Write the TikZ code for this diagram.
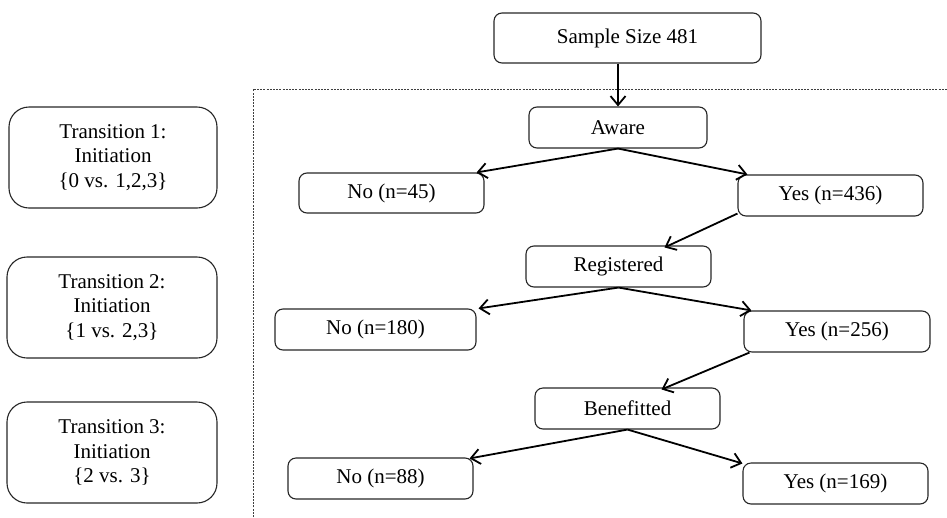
\documentclass[tikz,border=0pt]{standalone}
\usepackage{fontspec}
\setmainfont{Liberation Serif}
\usetikzlibrary{arrows.meta}
\begin{document}
\begin{tikzpicture}[x=1pt,y=-1pt,
  box/.style={draw=black!85, line width=1.1pt, rounded corners=8pt,
    inner sep=0pt, align=center, font=\fontsize{21}{24.5}\selectfont},
  sidebox/.style={box, rounded corners=20pt},
  flow/.style={line width=1.8pt, -{Straight Barb[length=9pt,width=15pt,line width=1.8pt]}},
  frame/.style={line width=0.8pt, black!75, dash pattern=on 2pt off 1.2pt}]
\useasboundingbox (0,0) rectangle (947,517);

% dashed frame around the decision tree
\coordinate (fc) at (253,89);
\coordinate (fr) at (947,89);
\coordinate (fb) at (253,517);
\draw[frame] (fb) -- (fc) -- (fr);

% transition labels
\node[sidebox, minimum width=208pt, minimum height=101pt] (t1) at (113,157.5)
  {Transition 1:\\Initiation\\\{0 vs. 1,2,3\}};
\node[sidebox, minimum width=210pt, minimum height=101pt] (t2) at (112,307.5)
  {Transition 2:\\Initiation\\\{1 vs. 2,3\}};
\node[sidebox, minimum width=210pt, minimum height=101pt] (t3) at (112,452.5)
  {Transition 3:\\Initiation\\\{2 vs. 3\}};

% decision tree
\node[box, minimum width=267pt, minimum height=50pt] (sample) at (627.5,38) {Sample Size 481};
\node[box, minimum width=178pt, minimum height=41pt] (aware) at (618,127.5) {Aware};
\node[box, minimum width=185pt, minimum height=40pt] (no1) at (391.5,193) {No (n=45)};
\node[box, minimum width=185pt, minimum height=41pt] (yes1) at (830.5,195.5) {Yes (n=436)};
\node[box, minimum width=185pt, minimum height=41pt] (reg) at (618.5,266.5) {Registered};
\node[box, minimum width=201pt, minimum height=41pt] (no2) at (375.5,329.5) {No (n=180)};
\node[box, minimum width=186pt, minimum height=41pt] (yes2) at (837,331.5) {Yes (n=256)};
\node[box, minimum width=185pt, minimum height=41pt] (ben) at (627.5,408.5) {Benefitted};
\node[box, minimum width=185pt, minimum height=41pt] (no3) at (380.5,478.5) {No (n=88)};
\node[box, minimum width=185pt, minimum height=41pt] (yes3) at (835.5,483.5) {Yes (n=169)};

\draw[flow] (sample.south -| aware.north) -- (aware.north);
\draw[flow] (aware.south) -- ([xshift=-8pt]no1.north east);
\draw[flow] (aware.south) -- ([xshift=10pt]yes1.north west);
\draw[flow] ([yshift=3pt]yes1.south west) -- ([xshift=46pt,yshift=-2pt]reg.north);
\draw[flow] (reg.south) -- ([xshift=2pt]no2.north east);
\draw[flow] (reg.south) -- ([xshift=8pt]yes2.north west);
\draw[flow] ([xshift=6pt]yes2.south west) -- ([xshift=34pt,yshift=-2pt]ben.north);
\draw[flow] (ben.south) -- ([xshift=-4pt,yshift=-1pt]no3.north east);
\draw[flow] (ben.south) -- ([yshift=-1pt]yes3.north west);
\end{tikzpicture}
\end{document}
